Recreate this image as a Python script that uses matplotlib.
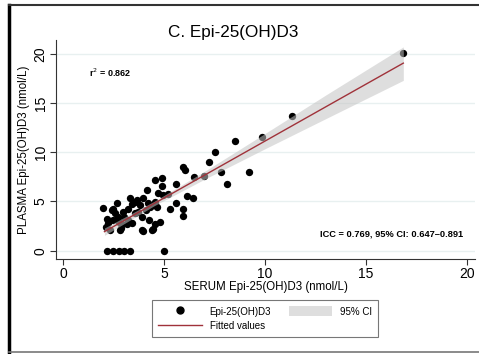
import numpy as np
import matplotlib
matplotlib.use('Agg')
from matplotlib import pyplot as plt
from matplotlib.lines import Line2D
from matplotlib.patches import Rectangle

plt.rcParams['font.family'] = ['Liberation Sans', 'DejaVu Sans']

# serum vs plasma Epi-25(OH)D3, nmol/L
serum = [16.85, 11.32, 9.84, 8.5, 7.51, 7.21, 5.94, 6.04, 7.0, 7.82, 9.22, 8.1,
         6.5, 6.42, 6.12, 5.6, 5.6, 5.31, 5.93, 5.93, 4.92, 4.54, 4.92, 4.72,
         4.97, 5.21, 4.8, 4.55, 4.44, 3.94,
         2.0, 2.41, 2.49, 2.69, 2.57, 2.16, 2.49, 2.11, 2.33, 2.24, 2.79, 2.99,
         3.02, 3.23, 3.32, 3.4, 3.56, 3.65, 3.81, 3.73, 3.9, 3.98, 4.14, 4.11,
         4.22, 4.28, 4.31, 4.47, 4.55, 4.64, 2.87, 3.15, 3.4, 3.56, 3.23, 2.74,
         2.9, 2.82, 3.9, 4.39,
         2.19, 2.49, 2.76, 3.02, 3.32, 5.01]
plasma = [20.1, 13.7, 11.52, 11.1, 10.03, 9.05, 8.54, 8.2, 7.62, 8.0, 8.0, 6.75,
          7.45, 5.32, 5.56, 6.78, 4.88, 4.24, 4.2, 3.53, 7.36, 7.18, 6.58, 5.83,
          5.66, 5.76, 2.95, 2.68, 2.17, 2.03,
          4.31, 4.14, 4.2, 4.88, 3.8, 3.19, 3.12, 2.44, 2.1, 2.78, 2.95, 3.96,
          3.39, 3.12, 5.32, 4.75, 4.98, 5.15, 4.64, 3.96, 3.46, 5.32, 6.17, 4.14,
          4.81, 3.12, 4.47, 4.64, 4.98, 4.47, 2.27, 2.68, 2.78, 3.8, 4.2, 3.46,
          2.68, 2.1, 2.1, 2.1,
          0.0, 0.0, 0.0, 0.0, 0.0, 0.0]

# fitted line and 95% CI
fit_x = [2.05, 4.5, 7.0, 10.0, 13.0, 16.85]
fit_lo = [1.55, 4.55, 7.25, 10.35, 13.4, 17.3]
fit_y = [1.93, 4.77, 7.66, 11.13, 14.6, 19.05]
fit_hi = [2.3, 5.0, 8.05, 11.9, 15.8, 20.7]

r2_text = 'r$^2$ = 0.862'
icc_text = 'ICC = 0.769, 95% CI: 0.647\u20130.891'

fig = plt.figure(figsize=(4.79, 3.54), dpi=100)
ax = fig.add_axes([56 / 479, 1 - 259 / 354, 419 / 479, 219 / 354])

ax.scatter(serum, plasma, s=28, color='black', linewidths=0, zorder=2)
ax.fill_between(fit_x, fit_lo, fit_hi, color='#c4c4c4', alpha=0.55,
                linewidth=0, zorder=3)
ax.plot(fit_x, fit_y, color='#a0323a', linewidth=1.0, zorder=4)

ax.set_xlim(-0.35, 20.4)
ax.set_ylim(-0.85, 21.4)
ax.set_xticks([0, 5, 10, 15, 20])
ax.set_yticks([0, 5, 10, 15, 20])
ax.yaxis.grid(True, color='#e8f0f0', linewidth=1.0)
ax.set_axisbelow(True)
for side in ['top', 'right']:
    ax.spines[side].set_visible(False)
for side in ['left', 'bottom']:
    ax.spines[side].set_color('#333333')
    ax.spines[side].set_linewidth(0.8)
ax.tick_params(length=4, width=0.8, color='#333333', labelsize=10,
               pad=2)
plt.setp(ax.get_yticklabels(), rotation=90, va='center')

ax.set_xlabel('SERUM Epi-25(OH)D3 (nmol/L)', fontsize=8.3, labelpad=0)
ax.set_ylabel('PLASMA Epi-25(OH)D3 (nmol/L)', fontsize=8.3, labelpad=3)
fig.text(233 / 479, 1 - 32 / 354, 'C. Epi-25(OH)D3', fontsize=12.3,
         ha='center', va='center')

fig.text(89 / 479, 1 - 73 / 354, r2_text, fontsize=6.5, fontweight='bold',
         ha='left', va='center')
fig.text(463 / 479, 1 - 234 / 354, icc_text, fontsize=6.7,
         fontweight='bold', ha='right', va='center')

handles = [
    Line2D([], [], marker='o', linestyle='none', color='black', markersize=5),
    Line2D([], [], color='#a0323a', linewidth=1.0),
    Rectangle((0, 0), 1, 1, facecolor='#dedede', edgecolor='none'),
]
labels = ['Epi-25(OH)D3', 'Fitted values', '95% CI']
leg = fig.legend(handles, labels, ncol=2, loc='center',
                 bbox_to_anchor=(265 / 479, 1 - 318.5 / 354), fontsize=7,
                 frameon=True, fancybox=False, edgecolor='#555555',
                 handlelength=4.5, handleheight=1.25, handletextpad=0.8,
                 columnspacing=1.8, borderpad=0.6, labelspacing=0.4)
leg.get_frame().set_linewidth(0.8)

# outer frame
fig.add_artist(Line2D([9 / 479, 9 / 479], [1 - 352 / 354, 1 - 5 / 354],
                      transform=fig.transFigure, color='black', linewidth=2.5))
fig.add_artist(Line2D([9 / 479, 1], [1 - 5 / 354, 1 - 5 / 354],
                      transform=fig.transFigure, color='#333333', linewidth=1.5))
fig.add_artist(Line2D([9 / 479, 1], [1 - 352 / 354, 1 - 352 / 354],
                      transform=fig.transFigure, color='#777777', linewidth=1.2))

fig.savefig('out.png', dpi=100)
